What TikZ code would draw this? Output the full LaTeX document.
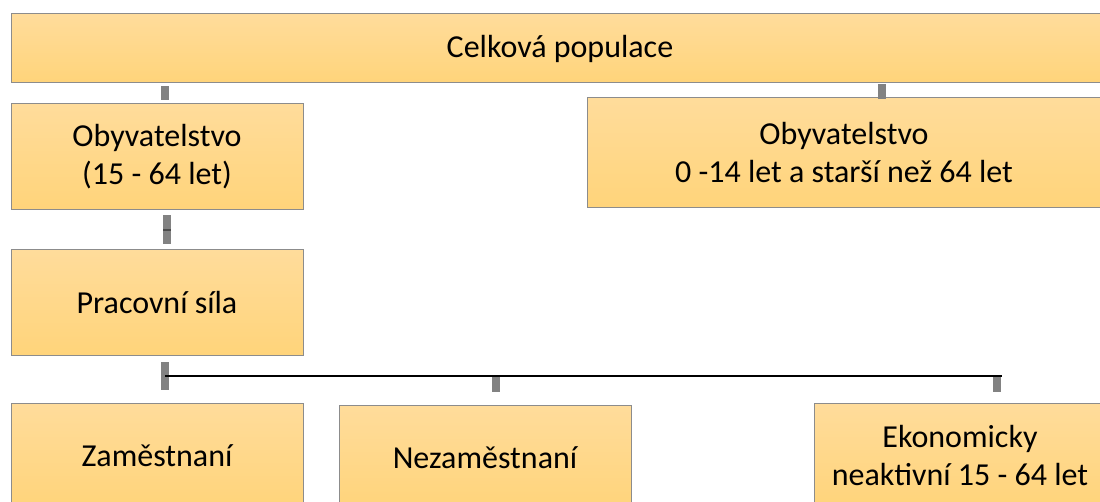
\documentclass[tikz,border=0pt]{standalone}
\usepackage{fontspec}
\setmainfont{Carlito}
\definecolor{boxtop}{RGB}{255,220,155}
\definecolor{boxbot}{RGB}{255,212,122}
\definecolor{boxline}{RGB}{140,140,140}
\definecolor{stubgray}{RGB}{130,130,130}
\tikzset{
  box/.style={draw=boxline, line width=1pt, top color=boxtop, bottom color=boxbot,
    rectangle, align=center, inner sep=0pt,
    font=\fontsize{32}{38}\selectfont},
  stub/.style={draw=stubgray, line width=8pt},
  bus/.style={draw=black, line width=2pt}
}
\begin{document}
\begin{tikzpicture}[x=1pt,y=-1pt]
\useasboundingbox (0,0) rectangle (1100,502);
\clip (0,0) rectangle (1100,502);
\node[box, minimum width=1098pt, minimum height=69pt] (top) at (560,48.5) {Celková populace};
\node[box, minimum width=292pt, minimum height=106pt] (L1) at (157,157) {Obyvatelstvo\\(15 - 64 let)};
\node[box, minimum width=514pt, minimum height=110pt] (R1) at (844,153) {Obyvatelstvo\\0 -14 let a starší než 64 let};
\node[box, minimum width=292pt, minimum height=106pt] (P) at (157,303) {Pracovní síla};
\node[box, minimum width=292pt, minimum height=106pt] (Z) at (157,456) {Zaměstnaní};
\node[box, minimum width=292pt, minimum height=106pt] (N) at (485,458) {Nezaměstnaní};
\node[box, minimum width=292pt, minimum height=106pt] (E) at (960,456) {Ekonomicky\\neaktivní 15 - 64 let};
% connectors
\draw[stub] ([yshift=-3pt]top.south -| 165,0) -- ([yshift=3pt]L1.north -| 165,0);
\draw[stub] ([yshift=-1pt]top.south -| 882,0) -- ([yshift=-2pt]R1.north -| 882,0);
\coordinate (m1) at (167,230);
\draw[stub] ([yshift=-5pt]L1.south -| m1) -- (m1) -- ([yshift=5pt]P.north -| m1);
\draw[draw=black!70, line width=1.5pt] ([xshift=-4pt]m1) -- ([xshift=4pt]m1);
\coordinate (busL) at (165,376);
\coordinate (busR) at (1002,376);
\draw[stub] ([yshift=-6pt]P.south -| busL) -- ([yshift=13pt]Z.north -| busL);
\draw[bus] (busL) -- (busR);
\draw[stub] ([yshift=-1pt]busL -| 496,0) -- ([yshift=13pt]N.north -| 496,0);
\draw[stub] ([yshift=-1pt]busR -| 997,0) -- ([yshift=11pt]E.north -| 997,0);
\end{tikzpicture}
\end{document}
